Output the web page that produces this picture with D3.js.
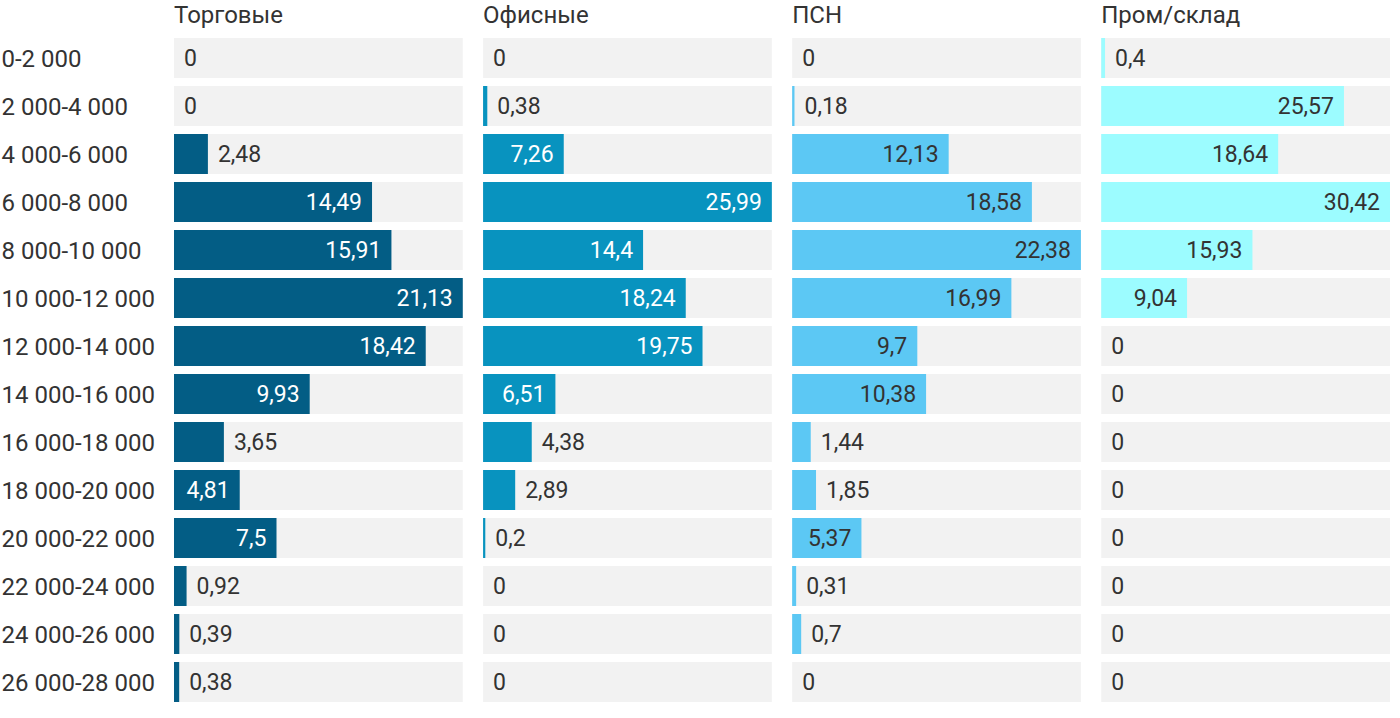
<!DOCTYPE html>
<html>
<head>
<meta charset="utf-8">
<script src="https://cdn.jsdelivr.net/npm/d3@7"></script>
<style>
  body { margin: 0; background: #fff; }
  text { font-family: Roboto, "Noto Sans", sans-serif; }
</style>
</head>
<body>
<div id="chart"></div>
<script>
// price ranges (rows)
var ranges = ["0-2 000", "2 000-4 000", "4 000-6 000", "6 000-8 000", "8 000-10 000",
  "10 000-12 000", "12 000-14 000", "14 000-16 000", "16 000-18 000", "18 000-20 000",
  "20 000-22 000", "22 000-24 000", "24 000-26 000", "26 000-28 000"];

// segments (panels)
var segments = ["Торговые", "Офисные", "ПСН", "Пром/склад"];

var trade = [0, 0, 2.48, 14.49, 15.91, 21.13, 18.42, 9.93, 3.65, 4.81, 7.5, 0.92, 0.39, 0.38];
var office = [0, 0.38, 7.26, 25.99, 14.4, 18.24, 19.75, 6.51, 4.38, 2.89, 0.2, 0, 0, 0];
var psn = [0, 0.18, 12.13, 18.58, 22.38, 16.99, 9.7, 10.38, 1.44, 1.85, 5.37, 0.31, 0.7, 0];
var industrial = [0.4, 25.57, 18.64, 30.42, 15.93, 9.04, 0, 0, 0, 0, 0, 0, 0, 0];

var seriesList = [trade, office, psn, industrial];
var colors = ["#035d85", "#0893bf", "#5cc8f4", "#9cfcff"];
var innerText = ["#fff", "#fff", "#333", "#333"];

var svgWidth = 1400, svgHeight = 718;
var labelSize = 24;
var valueSize = 23;

var svg = d3.select("#chart").append("svg")
  .attr("width", svgWidth)
  .attr("height", svgHeight);

var xPanel = d3.scaleBand()
  .domain(segments)
  .range([174, 1390])
  .paddingInner(0.0657);

var y = d3.scaleBand()
  .domain(ranges)
  .range([38, 702])
  .paddingInner(1 / 6);

// row labels
svg.append("g").selectAll("text")
  .data(ranges)
  .enter()
  .append("text")
  .attr("x", 1.5)
  .attr("y", d => y(d) + y.bandwidth() / 2)
  .attr("dy", "0.36em")
  .attr("fill", "#333")
  .style("font-size", labelSize + "px")
  .text(d => d);

function fmt(v) {
  return String(v).replace(".", ",");
}

segments.forEach(function(seg, i) {
  var values = seriesList[i];
  var x0 = xPanel(seg);
  var w = xPanel.bandwidth();
  var x = d3.scaleLinear()
    .domain([0, d3.max(values)])
    .range([0, w]);

  var g = svg.append("g").attr("transform", `translate(${x0},0)`);

  // panel title
  g.append("text")
    .attr("x", 0)
    .attr("y", 23)
    .attr("fill", "#333")
    .style("font-size", labelSize + "px")
    .text(seg);

  var rows = g.selectAll("g.row")
    .data(values)
    .enter()
    .append("g")
    .attr("class", "row")
    .attr("transform", (d, j) => `translate(0,${y(ranges[j])})`);

  rows.append("rect")
    .attr("width", w)
    .attr("height", y.bandwidth())
    .attr("fill", "#f2f2f2");

  rows.append("rect")
    .attr("width", d => x(d))
    .attr("height", y.bandwidth())
    .attr("fill", colors[i]);

  rows.append("text")
    .attr("y", y.bandwidth() / 2)
    .attr("dy", "0.36em")
    .style("font-size", valueSize + "px")
    .text(d => fmt(d))
    .each(function(d) {
      var t = d3.select(this);
      var len = this.getComputedTextLength();
      var bw = x(d);
      if (len + 20 <= bw) {
        t.attr("x", bw - 10).attr("text-anchor", "end").attr("fill", innerText[i]);
      } else {
        t.attr("x", bw + 10).attr("text-anchor", "start").attr("fill", "#333");
      }
    });
});
</script>
</body>
</html>
